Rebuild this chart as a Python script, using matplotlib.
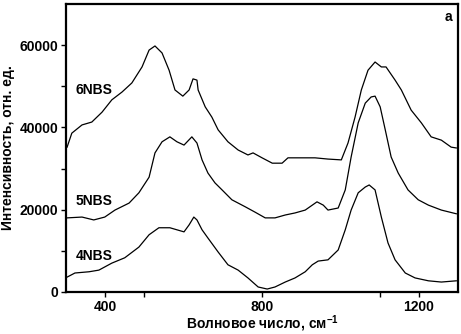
import numpy as np
import matplotlib
matplotlib.use('Agg')
import matplotlib.pyplot as plt
from matplotlib.ticker import FixedLocator

plt.rcParams['font.family'] = ['Liberation Sans', 'DejaVu Sans']
plt.rcParams['font.weight'] = 'bold'
plt.rcParams['mathtext.default'] = 'regular'

# Raman spectra
x_6nbs = [303, 315, 341, 366, 392, 417, 443, 468, 494, 512, 527, 545, 563, 578,
          598, 614, 624, 634, 637, 655, 672, 688, 713, 739, 764, 777, 800, 826,
          851, 866, 902, 935, 968, 1002, 1019, 1037, 1053, 1070, 1088, 1104,
          1116, 1139, 1155, 1180, 1206, 1231, 1257, 1282, 1295]
y_6nbs = [35200, 38600, 40600, 41300, 43700, 46700, 48600, 50800, 54700, 58800,
          59800, 58100, 53900, 49100, 47600, 49100, 51800, 51500, 49100, 45000,
          42500, 39400, 36500, 34500, 33300, 33800, 32600, 31300, 31300, 32600,
          32600, 32600, 32300, 32100, 36200, 42500, 49100, 53900, 55900, 54700,
          54700, 51500, 49100, 44200, 41100, 37700, 36900, 35200, 35000]

x_5nbs = [303, 341, 371, 399, 425, 461, 486, 512, 527, 545, 565, 583, 601, 621,
          634, 647, 662, 680, 698, 723, 757, 782, 808, 833, 859, 884, 910, 940,
          956, 968, 994, 1012, 1027, 1045, 1063, 1078, 1088, 1101, 1114, 1129,
          1147, 1172, 1198, 1224, 1257, 1295]
y_5nbs = [18000, 18200, 17500, 18200, 19900, 21600, 24100, 27900, 33800, 36500,
          37700, 36500, 35700, 37700, 36200, 32100, 28900, 26500, 24800, 22400,
          20700, 19400, 18000, 18000, 18700, 19200, 19900, 21900, 21100, 19900,
          20400, 24800, 32800, 41100, 45900, 47400, 47600, 45000, 39400, 32800,
          28900, 24800, 22400, 21100, 19900, 19000]

x_4nbs = [303, 323, 359, 384, 417, 450, 486, 512, 537, 565, 583, 601, 614, 626,
          634, 647, 662, 688, 713, 739, 764, 790, 813, 833, 859, 884, 910, 928,
          943, 968, 994, 1012, 1027, 1045, 1063, 1073, 1088, 1104, 1121, 1139,
          1165, 1190, 1224, 1257, 1295]
y_4nbs = [3600, 4600, 4900, 5300, 7000, 8300, 10900, 13900, 15600, 15600, 15100,
          14600, 16300, 18200, 17500, 15100, 13100, 9700, 6600, 5300, 3400, 1200,
          700, 1200, 2400, 3400, 4900, 6600, 7500, 7800, 10200, 15100, 19900,
          24100, 25500, 26000, 24800, 18200, 11900, 7800, 4600, 3400, 2700, 2400,
          2700]

labels = ['6NBS', '5NBS', '4NBS']
label_y = [49100, 22200, 8700]
x_ticks = [400, 800, 1200]
x_minor = [500, 1100]
y_ticks = [0, 20000, 40000, 60000]
y_minor = [10000, 30000, 50000]

fig = plt.figure(figsize=(4.61, 3.34), dpi=100)
ax = fig.add_axes([0.143, 0.126, 0.851, 0.862])

for xs, ys in [(x_6nbs, y_6nbs), (x_5nbs, y_5nbs), (x_4nbs, y_4nbs)]:
    ax.plot(xs, ys, color='black', lw=0.9)

for name, yl in zip(labels, label_y):
    ax.text(324, yl, name, fontsize=10, fontweight='bold', va='center', ha='left')
ax.text(0.985, 0.955, 'a', transform=ax.transAxes, fontsize=10,
        fontweight='bold', ha='right', va='center')

ax.set_xlim(300, 1300)
ax.set_ylim(0, 70000)
ax.set_xticks(x_ticks)
ax.xaxis.set_minor_locator(FixedLocator(x_minor))
ax.set_yticks(y_ticks)
ax.yaxis.set_minor_locator(FixedLocator(y_minor))
ax.tick_params(which='both', direction='out', length=3.5, width=1,
               labelsize=10, pad=2)
for lab in ax.get_xticklabels() + ax.get_yticklabels():
    lab.set_fontweight('bold')
for sp in ax.spines.values():
    sp.set_linewidth(1.6)

ax.set_xlabel('Волновое число, см$^{-1}$', fontsize=10, fontweight='bold', labelpad=0)
ax.set_ylabel('Интенсивность, отн. ед.', fontsize=10, fontweight='bold', labelpad=3)

fig.savefig('out.png', dpi=100)
